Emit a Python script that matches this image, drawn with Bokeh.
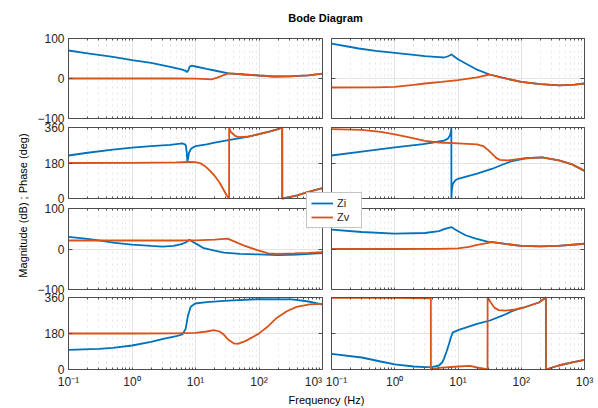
import math
from bokeh.plotting import figure
from bokeh.models import (Range1d, LogScale, LinearAxis, FixedTicker, Grid,
                          Legend, LegendItem, Label)
from bokeh.embed import file_html
from bokeh.resources import INLINE

# ---------------- data ----------------
freq_ticks = [0.1, 1, 10, 100, 1000]
freq_tick_labels = ["10\u207b\u00b9", "10\u2070", "10\u00b9", "10\u00b2", "10\u00b3"]
mag_ticks = [-100, 0, 100]
phase_ticks = [0, 180, 360]
series_names = ["Zi", "Zv"]
title_text = "Bode Diagram"
ylabel_text = "Magnitude (dB) ; Phase (deg)"
xlabel_text = "Frequency (Hz)"

# Row 1, left : magnitude (dB)
f_zi_m1l = [0.1, 0.2, 0.5, 1, 2, 4, 6, 7, 7.3, 7.7, 8.1, 8.6, 10, 15, 20, 33, 60, 100, 170, 300, 600, 1000]
zi_m1l = [70, 63, 54, 46, 39, 29, 23, 19, 16, 20, 30, 32, 30, 24, 20, 13, 10, 7.5, 5, 5.5, 8, 12]
f_zv_m1l = [0.1, 0.5, 1, 5, 10, 15, 18, 22, 27, 33, 60, 100, 170, 300, 600, 1000]
zv_m1l = [0, 0, 0, 0, -0.5, -1.5, -2, 2, 8, 13, 10, 7.5, 5, 5.5, 8, 12]

# Row 2, left : phase (deg)
f_zi_p1l = [0.1, 0.2, 0.5, 1, 2, 4, 6.2, 7.0, 7.25, 7.45, 7.65, 7.9, 8.5, 9.5, 10, 15, 20, 33, 50, 65,
            100, 150, 200, 232, 232.5, 300, 400, 600, 1000]
zi_p1l = [218, 232, 248, 258, 266, 272, 280, 272, 240, 188, 205, 232, 252, 262, 265, 275, 283, 296, 306, 313,
          326, 340, 352, 360, 0, 7, 16, 34, 52]
f_zv_p1l = [0.1, 1, 5, 8, 10, 12, 14, 17, 20, 24, 28, 31, 33.8, 33.9, 36, 42, 48, 65, 100, 150, 200, 232,
            232.5, 300, 400, 600, 1000]
zv_p1l = [180, 181, 183, 185, 184, 178, 165, 140, 115, 80, 42, 15, 0, 360, 337, 318, 311, 313, 326, 340, 352, 360,
          0, 7, 16, 34, 52]

# Row 1, right : magnitude (dB)
f_zi_m1r = [0.1, 0.27, 0.5, 1, 2, 3, 5, 6, 6.8, 7.5, 7.9, 8.5, 10, 13, 20, 31.5, 50, 100, 200, 400, 700, 1000]
zi_m1r = [87, 75, 69, 64, 59, 56, 53.5, 52.5, 55, 58, 60.5, 56, 48, 38, 22, 10, 2, -8.5, -14, -17, -15.5, -12.5]
f_zv_m1r = [0.1, 0.5, 1, 2, 3, 5.5, 10, 20, 31.5, 50, 100, 200, 400, 700, 1000]
zv_m1r = [-22.5, -22, -21, -16, -12.5, -8.5, -4, 3, 10, 2, -8.5, -14, -17, -15.5, -12.5]

# Row 2, right : phase (deg)
f_zi_p1r = [0.1, 0.3, 1, 2.8, 4, 6, 7, 7.5, 7.8, 7.85, 7.86, 8.0, 8.3, 9.1, 10, 20, 35, 50, 72, 117, 214,
            393, 637, 1000]
zi_p1r = [218, 238, 259, 276, 284, 293, 305, 322, 345, 360, 0, 45, 75, 92, 100, 126, 151, 171, 190, 204, 209,
          193, 173, 140]
f_zv_p1r = [0.1, 0.3, 0.6, 1, 1.7, 3, 5, 10, 20, 25, 30, 35, 40, 46, 60, 117, 214, 393, 637, 1000]
zv_p1r = [352, 348, 338, 325, 310, 292, 284, 280, 274, 266, 245, 225, 206, 196, 193, 204, 209, 193, 173, 140]

# Row 3, left : magnitude (dB)
f_zi_m2l = [0.1, 0.2, 0.3, 0.5, 1, 2, 3, 4.5, 6, 7, 8, 9, 10.5, 13.5, 20, 28, 50, 100, 200, 400, 1000]
zi_m2l = [30, 25, 21.5, 16, 11, 7.5, 6, 7.5, 12, 16, 23, 18, 12, 2, -4, -9, -12, -13.5, -15, -14, -10]
f_zv_m2l = [0.1, 1, 5, 10, 20, 32, 57, 94, 140, 200, 355, 600, 1000]
zv_m2l = [21, 21, 21, 21.5, 23, 25.5, 9, -3, -11, -12, -11, -9.5, -7.5]

# Row 4, left : phase (deg)
f_zi_p2l = [0.1, 0.3, 0.5, 1, 2, 3.1, 5, 6.2, 7, 7.6, 8.4, 9.9, 15, 28, 98, 330, 605, 1000]
zi_p2l = [98, 103, 108, 120, 138, 153, 167, 175, 203, 269, 314, 330, 337, 343, 352, 351, 340, 324]
f_zv_p2l = [0.1, 1, 5, 10, 15, 19.5, 24, 28, 32.5, 40, 46, 61, 98, 133, 190, 270, 390, 630, 1000]
zv_p2l = [180, 180, 181, 183, 190, 197, 190, 174, 150, 131, 128, 142, 178, 211, 258, 290, 313, 326, 328]

# Row 3, right : magnitude (dB)
f_zi_m2r = [0.1, 0.3, 1, 3, 5, 6.2, 7.9, 9, 10.6, 13.2, 18.6, 30, 35, 60, 100, 200, 380, 1000]
zi_m2r = [48, 42, 38, 39.5, 44, 49.5, 54, 48, 42, 34, 26, 17.5, 17, 12, 7.5, 6.5, 7.5, 13]
f_zv_m2r = [0.1, 1, 5, 10, 15, 20, 35, 60, 100, 200, 380, 1000]
zv_m2r = [0, 0, 0.5, 1.5, 5, 10, 17, 12, 7.5, 6.5, 7.5, 13]

# Row 4, right : phase (deg)
f_zi_p2r = [0.1, 0.3, 0.6, 1, 2, 3, 4, 5, 5.6, 6, 6.6, 7.2, 7.8, 8.3, 10.3, 20, 32, 50, 70, 90, 110, 190,
            245, 245.5, 390, 640, 1000]
zi_p2r = [78, 60, 40, 26, 15, 12, 13, 20, 35, 53, 90, 128, 165, 186, 198, 228, 245, 269, 290, 303, 310, 335,
          360, 0, 20, 36, 48]
f_zv_p2r = [0.1, 1, 3.5, 3.72, 3.73, 5, 10, 15.5, 20, 27, 29.3, 29.4, 33, 38, 44, 55, 80, 110, 190, 245,
            245.5, 390, 640, 1000]
zv_p2r = [358, 358, 356, 355, 0, 8, 15, 18, 10, 3, 0, 360, 335, 308, 297, 294, 300, 310, 335, 360,
          0, 20, 36, 48]

# ---------------- layout and style ----------------
FONT = "Liberation Sans"
BLUE = "#0072BD"
ORANGE = "#D95319"
FRAME_C = "#4d4d4d"
TEXT_C = "#262626"
GRID_C = "#e3e3e3"
MINOR_C = "#e6e6e6"
LW = 1.8

W, H = 598, 408
COLS = {"l": (68, 322), "r": (331, 584)}    # panel columns (page pixels)
ROWS = {"m1": (38, 118), "p1": (127, 198), "m2": (208, 289), "p2": (297, 369)}
# edge tick labels are nudged inwards (as in the reference) so neighbouring panels' labels do not collide
EDGE_LABEL_POS = {"l": {4: 720}, "r": {0: 0.12}}


def log_range(px0, px1, v0, v1):
    l0, l1 = math.log10(v0), math.log10(v1)
    k = (l1 - l0) / (px1 - px0)
    return Range1d(start=10 ** (l0 - px0 * k), end=10 ** (l1 + (W - px1) * k))


def lin_range(top_px, bot_px, lo, hi):
    a, b = H - bot_px, H - top_px
    k = (hi - lo) / (b - a)
    return Range1d(start=lo - a * k, end=hi + (H - b) * k)


flo, fhi = freq_ticks[0], freq_ticks[-1]
minor_f = [m * 10 ** e for e in range(-1, 3) for m in range(2, 10)]

p = figure(width=W, height=H, x_range=Range1d(0, W), y_range=Range1d(0, H),
           x_axis_type=None, y_axis_type=None, toolbar_location=None, output_backend="svg",
           min_border_left=0, min_border_right=0, min_border_top=0, min_border_bottom=0,
           background_fill_color="white", border_fill_color="white", outline_line_color=None)

p.extra_x_ranges = {c: log_range(COLS[c][0], COLS[c][1], flo, fhi) for c in COLS}
p.extra_x_scales = {c: LogScale() for c in COLS}
row_lim = {"m1": (mag_ticks[0], mag_ticks[-1]), "p1": (phase_ticks[0], phase_ticks[-1]),
           "m2": (mag_ticks[0], mag_ticks[-1]), "p2": (phase_ticks[0], phase_ticks[-1])}
row_ticks = {"m1": mag_ticks, "p1": phase_ticks, "m2": mag_ticks, "p2": phase_ticks}
p.extra_y_ranges = {r: lin_range(ROWS[r][0], ROWS[r][1], *row_lim[r]) for r in ROWS}

HAS_CB = "cross_bounds" in Grid.properties()

panels = [
    ("l", "m1", (f_zi_m1l, zi_m1l), (f_zv_m1l, zv_m1l)),
    ("r", "m1", (f_zi_m1r, zi_m1r), (f_zv_m1r, zv_m1r)),
    ("l", "p1", (f_zi_p1l, zi_p1l), (f_zv_p1l, zv_p1l)),
    ("r", "p1", (f_zi_p1r, zi_p1r), (f_zv_p1r, zv_p1r)),
    ("l", "m2", (f_zi_m2l, zi_m2l), (f_zv_m2l, zv_m2l)),
    ("r", "m2", (f_zi_m2r, zi_m2r), (f_zv_m2r, zv_m2r)),
    ("l", "p2", (f_zi_p2l, zi_p2l), (f_zv_p2l, zv_p2l)),
    ("r", "p2", (f_zi_p2r, zi_p2r), (f_zv_p2r, zv_p2r)),
]

axis_common = dict(axis_line_color=FRAME_C, axis_line_width=1,
                   major_tick_line_color=FRAME_C, minor_tick_line_color=FRAME_C,
                   major_tick_out=0, minor_tick_out=0,
                   major_label_text_font=FONT, major_label_text_font_size="12px",
                   major_label_text_color=TEXT_C)

blue_r = orange_r = None
for col, row, zi, zv in panels:
    lo, hi = row_lim[row]
    yt = row_ticks[row]
    kw = dict(x_range_name=col, y_range_name=row)

    # grid
    gx = dict(dimension=0, ticker=FixedTicker(ticks=freq_ticks, minor_ticks=minor_f), bounds=(flo, fhi),
              grid_line_color=GRID_C, grid_line_width=1,
              minor_grid_line_color=MINOR_C, minor_grid_line_dash="dotted", **kw)
    gy = dict(dimension=1, ticker=FixedTicker(ticks=yt), bounds=(lo, hi),
              grid_line_color=GRID_C, grid_line_width=1, **kw)
    if HAS_CB:
        gx["cross_bounds"] = (lo, hi)
        gy["cross_bounds"] = (flo, fhi)
        p.add_layout(Grid(**gx))
        p.add_layout(Grid(**gy))
    else:
        p.segment(x0=freq_ticks + minor_f, x1=freq_ticks + minor_f, y0=lo, y1=hi,
                  line_color=MINOR_C, line_dash="dotted", **kw)
        p.segment(x0=flo, x1=fhi, y0=yt[1], y1=yt[1], line_color=GRID_C, **kw)

    # data
    rb = p.line(zi[0], zi[1], line_color=BLUE, line_width=LW, **kw)
    ro = p.line(zv[0], zv[1], line_color=ORANGE, line_width=LW, **kw)
    if blue_r is None:
        blue_r, orange_r = rb, ro

    # box with inward ticks
    if col == "l":
        ax = LinearAxis(ticker=FixedTicker(ticks=yt), fixed_location=flo, bounds=(lo, hi),
                        major_tick_in=4, major_label_standoff=4, **axis_common, **kw)
    else:
        ax = LinearAxis(ticker=FixedTicker(ticks=[], minor_ticks=yt), fixed_location=flo, bounds=(lo, hi),
                        minor_tick_in=4, **axis_common, **kw)
    p.add_layout(ax, "left")
    p.add_layout(LinearAxis(ticker=FixedTicker(ticks=[], minor_ticks=yt), fixed_location=fhi,
                            bounds=(lo, hi), minor_tick_in=4, **axis_common, **kw), "right")
    p.add_layout(LinearAxis(ticker=FixedTicker(ticks=[], minor_ticks=freq_ticks + minor_f), fixed_location=lo,
                            bounds=(flo, fhi), minor_tick_in=2, **axis_common, **kw), "below")
    p.add_layout(LinearAxis(ticker=FixedTicker(ticks=[], minor_ticks=freq_ticks + minor_f), fixed_location=hi,
                            bounds=(flo, fhi), minor_tick_in=2, **axis_common, **kw), "above")

    # frequency tick labels under the bottom row
    if row == "p2":
        pos = [EDGE_LABEL_POS[col].get(i, t) for i, t in enumerate(freq_ticks)]
        overrides = {}
        for v, lab in zip(pos, freq_tick_labels):
            overrides[v] = lab
            overrides[str(v)] = lab
        p.add_layout(LinearAxis(ticker=FixedTicker(ticks=pos), fixed_location=lo, bounds=(flo, fhi),
                                major_label_overrides=overrides, major_label_standoff=5,
                                axis_line_color=None, major_tick_in=0, major_tick_out=0,
                                major_label_text_font=FONT, major_label_text_font_size="12px",
                                major_label_text_color=TEXT_C, **kw), "below")

# title and overall axis labels (screen positions)
p.add_layout(Label(x=325, y=H - 17, x_units="screen", y_units="screen", text=title_text,
                   text_font=FONT, text_font_size="11px", text_font_style="bold", text_color="#000000",
                   text_align="center", text_baseline="middle"))
p.add_layout(Label(x=22, y=H - 205, x_units="screen", y_units="screen", text=ylabel_text, angle=math.pi / 2,
                   text_font=FONT, text_font_size="11px", text_color="#000000",
                   text_align="center", text_baseline="middle"))
p.add_layout(Label(x=326, y=H - 399, x_units="screen", y_units="screen", text=xlabel_text,
                   text_font=FONT, text_font_size="11px", text_color="#000000",
                   text_align="center", text_baseline="middle"))

legend = Legend(items=[LegendItem(label=series_names[0], renderers=[blue_r]),
                       LegendItem(label=series_names[1], renderers=[orange_r])],
                location=(306, H - 228), label_text_font=FONT, label_text_font_size="11px",
                label_text_color=TEXT_C, glyph_width=22, glyph_height=12, label_height=12,
                label_standoff=4, spacing=2, padding=4, margin=0,
                border_line_color="#8c8c8c", background_fill_color="white", background_fill_alpha=1)
p.add_layout(legend)

open("out.html", "w").write(file_html(p, INLINE))
